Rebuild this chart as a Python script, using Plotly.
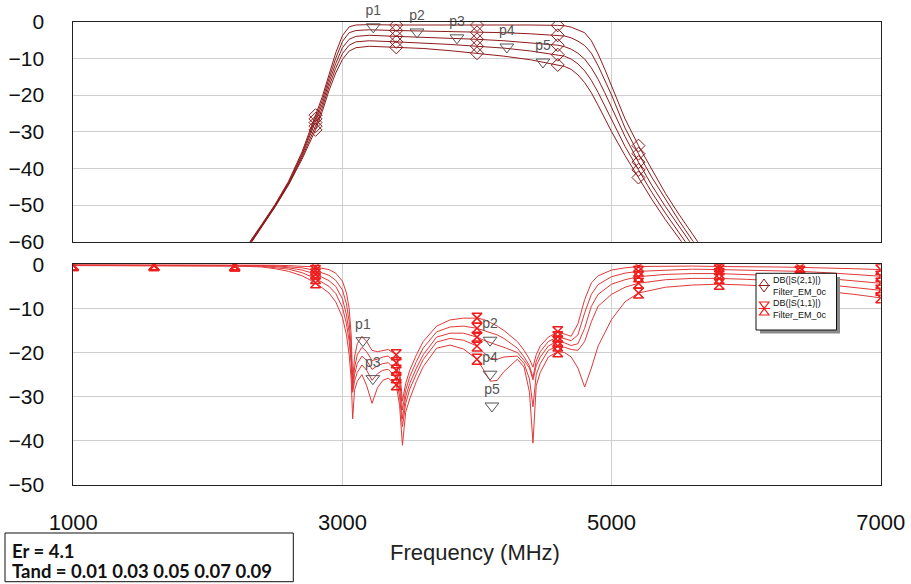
import plotly.graph_objects as go

# ---------------- data ----------------
freq_s21 = [2200, 2300, 2400, 2500, 2600, 2700, 2800, 2850, 2900, 2950, 3000, 3050, 3100, 3200,
            3400, 3600, 3800, 4000, 4200, 4400, 4600, 4650, 4700, 4750, 4800, 4850, 4900, 4950,
            5000, 5100, 5200, 5300, 5400, 5500, 5600, 5700, 5800]
s21_t001 = [-66, -60.8, -55.3, -49.8, -43.5, -35.5, -25.5, -20.5, -14.5, -8.5, -3.8, -1.4, -0.9, -0.8,
            -0.9, -0.8, -0.9, -0.9, -0.8, -0.9, -1.0, -1.1, -1.5, -2.2, -3.0, -5.2, -8.8, -13.0,
            -17.5, -26.5, -33.8, -40.5, -46.8, -52.5, -58.0, -63.2, -68.0]
s21_t003 = [-66.2, -61.0, -55.5, -50.0, -43.8, -36.0, -26.5, -21.5, -15.5, -10.0, -5.4, -3.0, -2.4, -2.2,
            -2.4, -2.5, -2.7, -2.9, -3.0, -3.3, -3.7, -3.9, -4.4, -5.3, -6.5, -8.6, -12.0, -16.0,
            -20.0, -29.0, -36.0, -42.5, -48.5, -54.2, -59.6, -64.8, -69.5]
s21_t005 = [-66.5, -61.2, -55.7, -50.2, -44.0, -36.5, -27.5, -22.5, -16.6, -11.4, -7.1, -4.8, -4.0, -3.7,
            -4.0, -4.2, -4.5, -4.8, -5.2, -5.8, -6.4, -6.8, -7.5, -8.6, -10.2, -12.6, -15.7, -19.4,
            -23.3, -31.3, -38.3, -44.7, -50.4, -55.9, -61.2, -66.3, -71.0]
s21_t007 = [-66.8, -61.4, -55.9, -50.4, -44.3, -37.0, -28.5, -23.5, -17.7, -12.7, -8.7, -6.4, -5.5, -5.2,
            -5.5, -5.8, -6.2, -6.7, -7.2, -8.0, -9.0, -9.4, -10.2, -11.5, -13.4, -16.0, -19.3, -23.0,
            -26.7, -34.0, -40.4, -46.6, -52.2, -57.6, -62.9, -68.0, -72.5]
s21_t009 = [-67.0, -61.5, -56.0, -50.5, -44.5, -37.5, -29.5, -24.5, -18.8, -14.0, -10.3, -8.0, -7.1, -6.7,
            -7.0, -7.3, -7.9, -8.6, -9.4, -10.4, -11.8, -12.2, -13.0, -14.5, -16.6, -19.4, -22.8, -26.5,
            -30.0, -36.5, -42.5, -48.5, -54.0, -59.2, -64.5, -69.5, -74.0]
s21_series = [s21_t001, s21_t003, s21_t005, s21_t007, s21_t009]

freq_s11 = [1000, 1600, 2000, 2200, 2400, 2500, 2600, 2700, 2800, 2900, 2950, 3000, 3030, 3050,
            3065, 3076, 3090, 3110, 3145, 3180, 3220, 3260, 3300, 3340, 3400, 3425, 3446, 3470,
            3500, 3550, 3600, 3700, 3800, 3900, 4000, 4050, 4100, 4150, 4200, 4300, 4350, 4390,
            4416, 4440, 4470, 4530, 4600, 4650, 4700, 4750, 4800, 4850, 4900, 5000, 5100, 5200,
            5400, 5600, 5800, 6000, 6200, 6400, 6600, 6800, 7000]
s11_c1 = [-0.1, -0.1, -0.1, -0.12, -0.15, -0.2, -0.3, -0.4, -0.6, -1.2, -2.0, -3.8, -6.5, -10.0,
          -16.0, -26.5, -21.0, -18.0, -16.3, -17.5, -19.5, -19.8, -19.5, -19.3, -20.5, -24.0, -31.0, -27.0,
          -24.0, -20.5, -17.5, -14.0, -12.6, -12.2, -12.2, -12.5, -13.2, -14.0, -15.0, -17.5, -19.5, -21.5,
          -23.3, -20.5, -18.5, -16.5, -15.3, -15.8, -16.3, -13.5, -8.0, -4.2, -2.6, -1.3, -0.8, -0.5,
          -0.4, -0.4, -0.5, -0.5, -0.6, -0.7, -0.8, -1.0, -1.2]
s11_c2 = [-0.15, -0.15, -0.2, -0.2, -0.25, -0.35, -0.5, -0.8, -1.4, -2.5, -3.6, -5.8, -9.0, -13.0,
          -19.0, -27.5, -23.5, -20.5, -18.8, -19.8, -21.8, -21.5, -21.0, -20.8, -22.3, -26.0, -33.0, -28.5,
          -25.5, -22.0, -19.0, -15.3, -14.2, -14.0, -14.5, -15.0, -15.5, -16.0, -16.8, -19.0, -21.0, -23.0,
          -25.6, -22.0, -19.8, -17.5, -16.4, -16.8, -17.3, -16.0, -11.0, -6.8, -4.6, -2.8, -2.0, -1.6,
          -1.3, -1.1, -1.2, -1.3, -1.4, -1.6, -1.9, -2.3, -2.7]
s11_c3 = [-0.2, -0.2, -0.25, -0.3, -0.35, -0.5, -0.8, -1.3, -2.2, -3.7, -5.0, -7.8, -11.5, -15.5,
          -21.0, -28.3, -25.0, -22.5, -20.8, -21.8, -23.8, -23.0, -22.5, -22.3, -24.0, -28.0, -35.0, -30.0,
          -27.0, -23.5, -20.5, -16.5, -15.6, -15.6, -16.5, -17.2, -17.8, -18.3, -18.8, -20.0, -21.8, -23.5,
          -26.2, -23.0, -21.0, -18.5, -17.4, -17.8, -18.4, -18.0, -14.5, -9.5, -6.8, -4.5, -3.5, -2.8,
          -2.3, -2.1, -2.1, -2.3, -2.5, -2.8, -3.2, -3.7, -4.3]
s11_c4 = [-0.25, -0.25, -0.3, -0.35, -0.45, -0.7, -1.1, -1.9, -3.2, -5.0, -6.6, -9.8, -13.5, -17.5,
          -22.5, -29.0, -26.5, -24.5, -22.8, -24.0, -26.3, -24.8, -24.0, -23.8, -25.7, -30.0, -36.8, -31.5,
          -28.3, -24.8, -21.6, -17.6, -16.8, -17.2, -18.5, -20.0, -21.3, -21.5, -21.0, -20.8, -22.5, -26.0,
          -32.3, -25.0, -22.5, -19.5, -18.5, -18.8, -19.3, -19.5, -17.5, -13.0, -9.5, -6.8, -5.2, -4.3,
          -3.5, -3.2, -3.2, -3.4, -3.7, -4.0, -4.6, -5.2, -5.9]
s11_c5 = [-0.3, -0.3, -0.35, -0.4, -0.6, -1.0, -1.6, -2.6, -4.2, -6.5, -8.5, -12.0, -16.0, -20.5,
          -26.0, -35.0, -28.5, -26.5, -25.0, -27.5, -31.5, -28.0, -26.3, -25.8, -27.3, -32.0, -41.0, -33.5,
          -30.5, -26.5, -23.2, -19.0, -18.3, -19.2, -21.5, -24.0, -26.5, -26.3, -24.3, -21.5, -23.3, -29.0,
          -40.5, -27.5, -24.5, -21.0, -19.8, -20.0, -21.0, -23.5, -27.8, -23.5, -18.5, -12.5, -8.5, -6.5,
          -5.2, -4.7, -4.5, -4.7, -5.0, -5.5, -6.1, -6.8, -7.6]
s11_series = [s11_c1, s11_c2, s11_c3, s11_c4, s11_c5]

marker_freqs = [1000, 1600, 2200, 2800, 3400, 4000, 4600, 5200, 5800, 6400, 7000]

p_labels = ["p1", "p2", "p3", "p4", "p5"]
p21_freq = [3229, 3554, 3851, 4222, 4490]
p21_db = [-1.4, -2.8, -4.4, -6.9, -11.0]
p11_labels = ["p1", "p3", "p2", "p4", "p5"]
p11_freq = [3152, 3226, 4097, 4097, 4111]
p11_db = [-17.3, -25.9, -17.2, -24.9, -32.1]

x_ticks = [1000, 3000, 5000, 7000]
top_ticks = [0, -10, -20, -30, -40, -50, -60]
bot_ticks = [0, -10, -20, -30, -40, -50]

legend_entries = ["DB(|S(2,1)|)<br>Filter_EM_0c", "DB(|S(1,1)|)<br>Filter_EM_0c"]
note_lines = ["Er = 4.1", "Tand = 0.01 0.03 0.05 0.07 0.09"]

# ---------------- styling ----------------
W, H = 911, 584
C21 = "#8e1b1b"
C11 = "#e03838"
CM11 = "#f01c1c"
GRID = "#cfcfcf"
FONT = "Liberation Sans, Arial, sans-serif"


def px(x):
    return x / W


def py(y):
    return 1 - y / H


fig = go.Figure()

for s in s21_series:
    fig.add_trace(go.Scatter(x=freq_s21, y=s, mode="lines", line=dict(color=C21, width=1),
                             xaxis="x", yaxis="y", showlegend=False, hoverinfo="skip"))
    mx = [f for f in freq_s21 if f in marker_freqs]
    my = [v for f, v in zip(freq_s21, s) if f in marker_freqs]
    fig.add_trace(go.Scatter(x=mx, y=my, mode="markers",
                             marker=dict(symbol="diamond-open", size=10, color=C21,
                                         line=dict(color=C21, width=1)),
                             xaxis="x", yaxis="y", showlegend=False, hoverinfo="skip"))

for s in s11_series:
    fig.add_trace(go.Scatter(x=freq_s11, y=s, mode="lines", line=dict(color=C11, width=1),
                             xaxis="x2", yaxis="y2", showlegend=False, hoverinfo="skip"))
    mx = [f for f in freq_s11 if f in marker_freqs]
    my = [v for f, v in zip(freq_s11, s) if f in marker_freqs]
    fig.add_trace(go.Scatter(x=mx, y=my, mode="markers",
                             marker=dict(symbol="hourglass-open", size=10, color=CM11,
                                         line=dict(color=CM11, width=1.5)),
                             xaxis="x2", yaxis="y2", showlegend=False, hoverinfo="skip"))

fig.add_trace(go.Scatter(x=p21_freq, y=p21_db, mode="markers+text", text=p_labels,
                         textposition="top center", cliponaxis=False,
                         textfont=dict(size=14, color="#555", family=FONT),
                         marker=dict(symbol="triangle-down-open", size=12, color="#555",
                                     line=dict(color="#555", width=1)),
                         xaxis="x", yaxis="y", showlegend=False, hoverinfo="skip"))
fig.add_trace(go.Scatter(x=p11_freq, y=p11_db, mode="markers+text", text=p11_labels,
                         textposition="top center", cliponaxis=False,
                         textfont=dict(size=14, color="#555", family=FONT),
                         marker=dict(symbol="triangle-down-open", size=12, color="#555",
                                     line=dict(color="#555", width=1)),
                         xaxis="x2", yaxis="y2", showlegend=False, hoverinfo="skip"))

xdom = [px(73.3), px(880.7)]
common_x = dict(domain=xdom, range=[1000, 7000], tickvals=x_ticks, showgrid=True, gridcolor=GRID,
                gridwidth=1, zeroline=False, showline=True, linecolor="#222", linewidth=1,
                mirror=True, ticks="", automargin=False)
common_y = dict(showgrid=True, gridcolor=GRID, gridwidth=1, zeroline=False, showline=True,
                linecolor="#222", linewidth=1, mirror=True, ticks="", automargin=False,
                tickfont=dict(size=21, color="#111", family=FONT), ticklabelstandoff=24)

fig.update_layout(
    width=W, height=H, margin=dict(l=0, r=0, t=0, b=0, pad=0, autoexpand=False),
    paper_bgcolor="white", plot_bgcolor="white", showlegend=False,
    xaxis=dict(**common_x, anchor="y", showticklabels=False),
    yaxis=dict(**common_y, domain=[py(241.7), py(21.7)], range=[-60, 0], tickvals=top_ticks,
               anchor="x"),
    xaxis2=dict(**common_x, anchor="y2", matches="x", showticklabels=True,
                tickfont=dict(size=22, color="#111", family=FONT), ticklabelstandoff=18),
    yaxis2=dict(**common_y, domain=[py(485), py(264.3)], range=[-50, 0], tickvals=bot_ticks,
                anchor="x2"),
)

shapes = [
    # legend shadow and box
    dict(type="rect", xref="paper", yref="paper", x0=px(760), x1=px(840), y0=py(333.5), y1=py(277),
         fillcolor="#8a8a8a", line=dict(width=0), layer="above"),
    dict(type="rect", xref="paper", yref="paper", x0=px(756), x1=px(836.5), y0=py(330), y1=py(273.3),
         fillcolor="white", line=dict(color="#111", width=1), layer="above"),
    # diamond icon
    dict(type="path", xref="paper", yref="paper", layer="above",
         path=f"M {px(764)} {py(279)} L {px(768.7)} {py(285.5)} L {px(764)} {py(292)} "
              f"L {px(759.3)} {py(285.5)} Z",
         line=dict(color=C21, width=1)),
    dict(type="line", xref="paper", yref="paper", layer="above", x0=px(758.5), x1=px(770),
         y0=py(285.5), y1=py(285.5), line=dict(color=C21, width=1)),
    # hourglass icon
    dict(type="path", xref="paper", yref="paper", layer="above",
         path=f"M {px(759.5)} {py(302)} L {px(769)} {py(302)} L {px(759.5)} {py(315)} "
              f"L {px(769)} {py(315)} Z",
         line=dict(color=CM11, width=1.2)),
    dict(type="line", xref="paper", yref="paper", layer="above", x0=px(758.5), x1=px(770),
         y0=py(308.5), y1=py(308.5), line=dict(color=CM11, width=1)),
    # note box
    dict(type="rect", xref="paper", yref="paper", x0=px(5), x1=px(293.3), y0=py(581.7), y1=py(533),
         fillcolor="white", line=dict(color="#111", width=1)),
]
fig.update_layout(shapes=shapes)

annotations = []
for txt, yc in zip(legend_entries, [285.5, 308.5]):
    annotations.append(dict(text=txt, x=px(772), y=py(yc), xref="paper", yref="paper",
                            xanchor="left", yanchor="middle", align="left", showarrow=False,
                            borderpad=0, font=dict(size=9, color="#111", family=FONT)))
annotations.append(dict(text="Frequency (MHz)", x=px(475), y=py(552), xref="paper", yref="paper",
                        xanchor="center", yanchor="middle", showarrow=False,
                        font=dict(size=22, color="#222", family=FONT)))
for txt, yc in zip(note_lines, [550.5, 570.5]):
    annotations.append(dict(text=f"<b>{txt}</b>", x=px(11), y=py(yc), xref="paper", yref="paper",
                            xanchor="left", yanchor="middle", showarrow=False, borderpad=0,
                            font=dict(size=18.5, color="#111", family="Lato, sans-serif")))
fig.update_layout(annotations=annotations)

fig.write_html("out.html", config={"displayModeBar": False},
               post_script="document.body.style.margin='0px';document.body.style.overflow='hidden';")
